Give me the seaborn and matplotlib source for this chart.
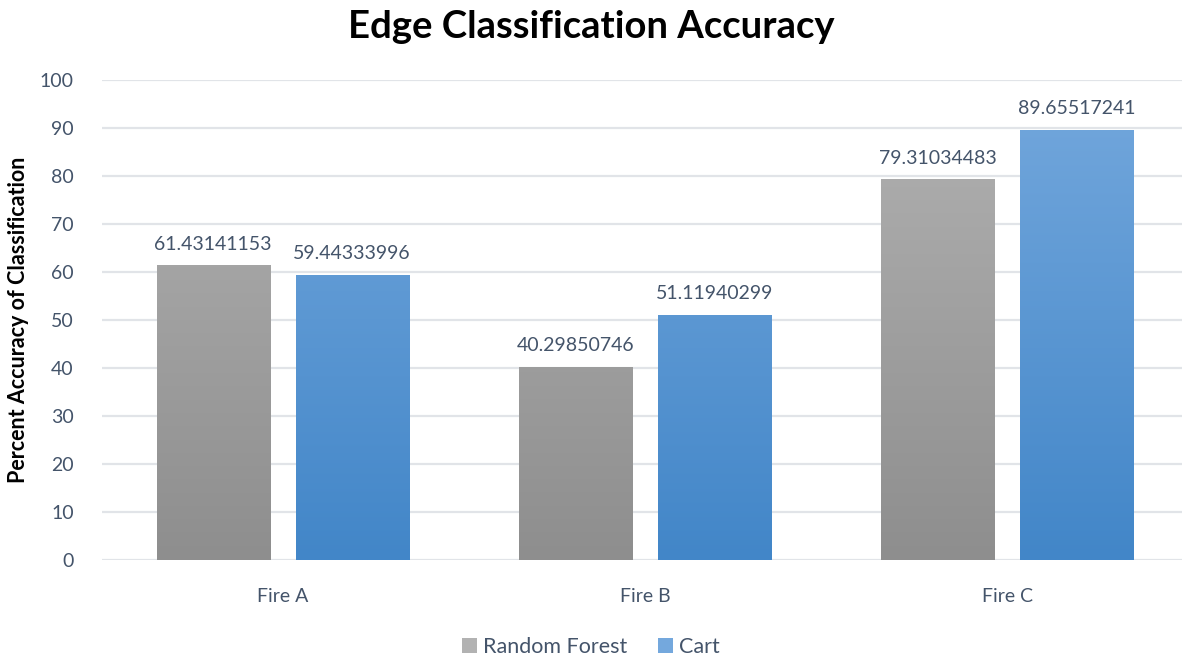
import numpy as np
import pandas as pd
import matplotlib
matplotlib.use("Agg")
import matplotlib.pyplot as plt
import seaborn as sns
from matplotlib.colors import LinearSegmentedColormap
from matplotlib.patches import Patch

fires = ["Fire A", "Fire B", "Fire C"]
methods = ["Random Forest", "Cart"]
random_forest = [61.43141153, 40.29850746, 79.31034483]
cart = [59.44333996, 51.11940299, 89.65517241]
y_ticks = [0, 10, 20, 30, 40, 50, 60, 70, 80, 90, 100]

df = pd.DataFrame({
    "Fire": fires * 2,
    "Method": [methods[0]] * 3 + [methods[1]] * 3,
    "Accuracy": random_forest + cart,
})

# gradient colours per series (top, bottom)
gradients = {
    "Random Forest": ("#B2B2B2", "#8E8E8E"),
    "Cart": ("#74A8DD", "#4286C8"),
}
text_col = "#44546A"
grid_col = "#E1E4E8"

sns.set_theme(style="white")
plt.rcParams["font.family"] = ["Lato", "DejaVu Sans"]

fig = plt.figure(figsize=(11.82, 6.57), dpi=100)
ax = fig.add_axes([0.0859, 0.1476, 0.9196, 0.7306])

sns.barplot(data=df, x="Fire", y="Accuracy", hue="Method", order=fires,
            hue_order=methods, width=0.767, gap=0.185, ax=ax,
            palette=[gradients[m][0] for m in methods], legend=False,
            errorbar=None)

ax.set_ylim(0, 100)
ax.set_xlim(-0.5, 2.5)
ax.set_yticks(y_ticks)
ax.yaxis.grid(True, color=grid_col, linewidth=1.6)
ax.set_axisbelow(True)
for s in ax.spines.values():
    s.set_visible(False)
ax.tick_params(axis="both", length=0, labelsize=14, labelcolor=text_col)
ax.tick_params(axis="y", pad=20)
ax.tick_params(axis="x", pad=20)
ax.set_xlabel("")
ax.set_ylabel("Percent Accuracy of Classification", fontsize=15.5,
              fontweight="bold", color="black", labelpad=8)

# paint each bar with a vertical gradient clipped to its rectangle
for container, m in zip(ax.containers, methods):
    top, bottom = gradients[m]
    cmap = LinearSegmentedColormap.from_list(m, [bottom, top])
    grad = np.linspace(0, 1, 256).reshape(-1, 1)
    for bar in container:
        x0, w = bar.get_x(), bar.get_width()
        img = ax.imshow(grad, cmap=cmap, aspect="auto", origin="lower",
                        extent=(x0, x0 + w, 0, 100), zorder=2)
        img.set_clip_path(bar)
        bar.set_facecolor("none")
        bar.set_edgecolor("none")
    ax.bar_label(container, fmt="{:.8f}", padding=9, fontsize=14,
                 color=text_col)

ax.set_xlim(-0.5, 2.5)
ax.set_ylim(0, 100)

fig.suptitle("Edge Classification Accuracy", fontsize=27.5, fontweight="bold",
             color="black", x=0.5, y=0.985)

handles = [Patch(facecolor=gradients[m][0], edgecolor="none") for m in methods]
fig.legend(handles, methods, loc="lower center", ncol=2, frameon=False,
           bbox_to_anchor=(0.5, -0.03), fontsize=15.5, handlelength=0.7,
           handleheight=0.7, handletextpad=0.3, columnspacing=1.4,
           labelcolor=text_col)

fig.savefig("out.png", dpi=100)
